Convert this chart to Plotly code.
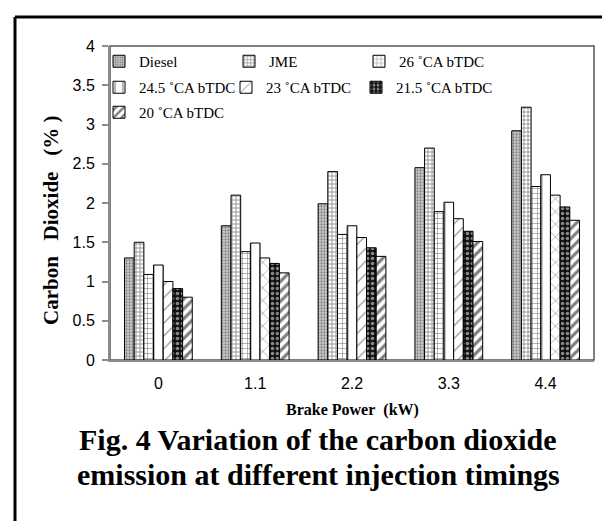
import plotly.graph_objects as go

# ---- data ----
categories = ["0", "1.1", "2.2", "3.3", "4.4"]
series_names = ["Diesel", "JME", "26 ˚CA bTDC", "24.5 ˚CA bTDC",
                "23 ˚CA bTDC", "21.5 ˚CA bTDC", "20 ˚CA bTDC"]
diesel = [1.30, 1.71, 1.99, 2.45, 2.92]
jme = [1.50, 2.10, 2.40, 2.70, 3.22]
ca26 = [1.09, 1.38, 1.60, 1.89, 2.21]
ca245 = [1.21, 1.49, 1.71, 2.01, 2.36]
ca23 = [1.00, 1.30, 1.56, 1.80, 2.10]
ca215 = [0.91, 1.23, 1.43, 1.64, 1.95]
ca20 = [0.80, 1.11, 1.32, 1.51, 1.78]
y_ticks = [0, 0.5, 1, 1.5, 2, 2.5, 3, 3.5, 4]

values = [diesel, jme, ca26, ca245, ca23, ca215, ca20]

# ---- styles ----
styles = [
    dict(color="#d0d0d0", pattern=dict(shape=".", fgcolor="#333333", bgcolor="#d0d0d0", size=3, solidity=0.45)),
    dict(color="white", pattern=dict(shape="+", fgcolor="black", bgcolor="white", size=4, solidity=0.35)),
    dict(color="white", pattern=dict(shape="+", fgcolor="black", bgcolor="white", size=5, solidity=0.22)),
    dict(color="white", pattern=dict(shape="|", fgcolor="black", bgcolor="white", size=9.7, solidity=0.15)),
    dict(color="white", pattern=dict(shape=["/", "x", "/", "/", "x"], fgcolor="black", bgcolor="white", size=9, solidity=0.12)),
    dict(color="#111111", pattern=dict(shape=".", fgcolor="white", bgcolor="#111111", size=5, solidity=0.4)),
    dict(color="white", pattern=dict(shape="/", fgcolor="black", bgcolor="white", size=7, solidity=0.45)),
]
# legend entry placement (symbol centre x, row top y) in pixels
legend_pos = [(118, 37), (248, 37), (378, 37),
              (118, 63), (245, 63), (375, 63),
              (118, 88)]

W, H = 610, 521
L, R, T, B = 102, 24, 38, 169
pw, ph = W - L - R, H - T - B

def px_x(x):
    return (x - L) / pw

def px_y(y):
    return (H - B - y) / ph

serif = "Liberation Serif, Times New Roman, serif"
narrow = "Liberation Sans Narrow, Arial Narrow, Liberation Sans, sans-serif"

fig = go.Figure()
legends = {}
for i, (name, vals, st, pos) in enumerate(zip(series_names, values, styles, legend_pos)):
    key = "legend" if i == 0 else f"legend{i + 1}"
    fig.add_trace(go.Bar(
        x=categories, y=vals, name=name, legend=key,
        marker=dict(color=st["color"], pattern=st["pattern"],
                    line=dict(color="black", width=1)),
    ))
    legends[key] = dict(
        orientation="h", x=px_x(pos[0] - 18), y=px_y(pos[1]),
        xanchor="left", yanchor="top", indentation=-9,
        font=dict(family=serif, size=15, color="black"),
        bgcolor="rgba(0,0,0,0)",
    )

fig.update_layout(
    width=W, height=H,
    margin=dict(l=L, r=R, t=T, b=B),
    paper_bgcolor="white", plot_bgcolor="white",
    barmode="group", bargap=0.3, bargroupgap=0,
    showlegend=True,
    **legends,
    xaxis=dict(
        showline=True, linecolor="#8c8c8c", linewidth=2,
        ticks="", ticklabelstandoff=8,
        tickfont=dict(family=narrow, size=16, color="black"),
        showgrid=False, zeroline=False,
    ),
    yaxis=dict(
        range=[0, 4], tickvals=y_ticks, ticktext=[f"{v:g}" for v in y_ticks],
        showline=True, linecolor="#8c8c8c", linewidth=2,
        ticks="outside", ticklen=6, tickcolor="#8c8c8c", tickwidth=1.5,
        ticklabelstandoff=4,
        tickfont=dict(family=narrow, size=16, color="black"),
        showgrid=False, zeroline=False,
    ),
    shapes=[
        dict(type="rect", xref="paper", yref="paper", x0=0, x1=1, y0=0, y1=1,
             line=dict(color="#555555", width=1.5), layer="below"),
        dict(type="line", xref="paper", yref="paper",
             x0=px_x(7), x1=px_x(7), y0=px_y(9), y1=px_y(H + 5),
             line=dict(color="black", width=3)),
        dict(type="line", xref="paper", yref="paper",
             x0=px_x(7), x1=px_x(W + 5), y0=px_y(9), y1=px_y(9),
             line=dict(color="black", width=3)),
    ],
    annotations=[
        dict(xref="paper", yref="paper", x=px_x(43), y=px_y(213),
             xanchor="center", yanchor="middle", showarrow=False, textangle=-90,
             text="Carbon\u00a0\u00a0\u00a0Dioxide\u00a0\u00a0\u00a0(%\u00a0)",
             font=dict(family=serif, size=21, color="black", weight="bold")),
        dict(xref="paper", yref="paper", x=0.5, y=px_y(402),
             xanchor="center", yanchor="middle", showarrow=False,
             text="Brake Power\u00a0 (kW)",
             font=dict(family=serif, size=16, color="black", weight="bold")),
        dict(xref="paper", yref="paper", x=px_x(310), y=px_y(431),
             xanchor="center", yanchor="middle", showarrow=False,
             text="Fig. 4 Variation of the carbon dioxide",
             font=dict(family=serif, size=30, color="black", weight="bold")),
        dict(xref="paper", yref="paper", x=px_x(310), y=px_y(466),
             xanchor="center", yanchor="middle", showarrow=False,
             text="emission at different injection timings",
             font=dict(family=serif, size=30, color="black", weight="bold")),
    ],
)

fig.write_html("out.html")
